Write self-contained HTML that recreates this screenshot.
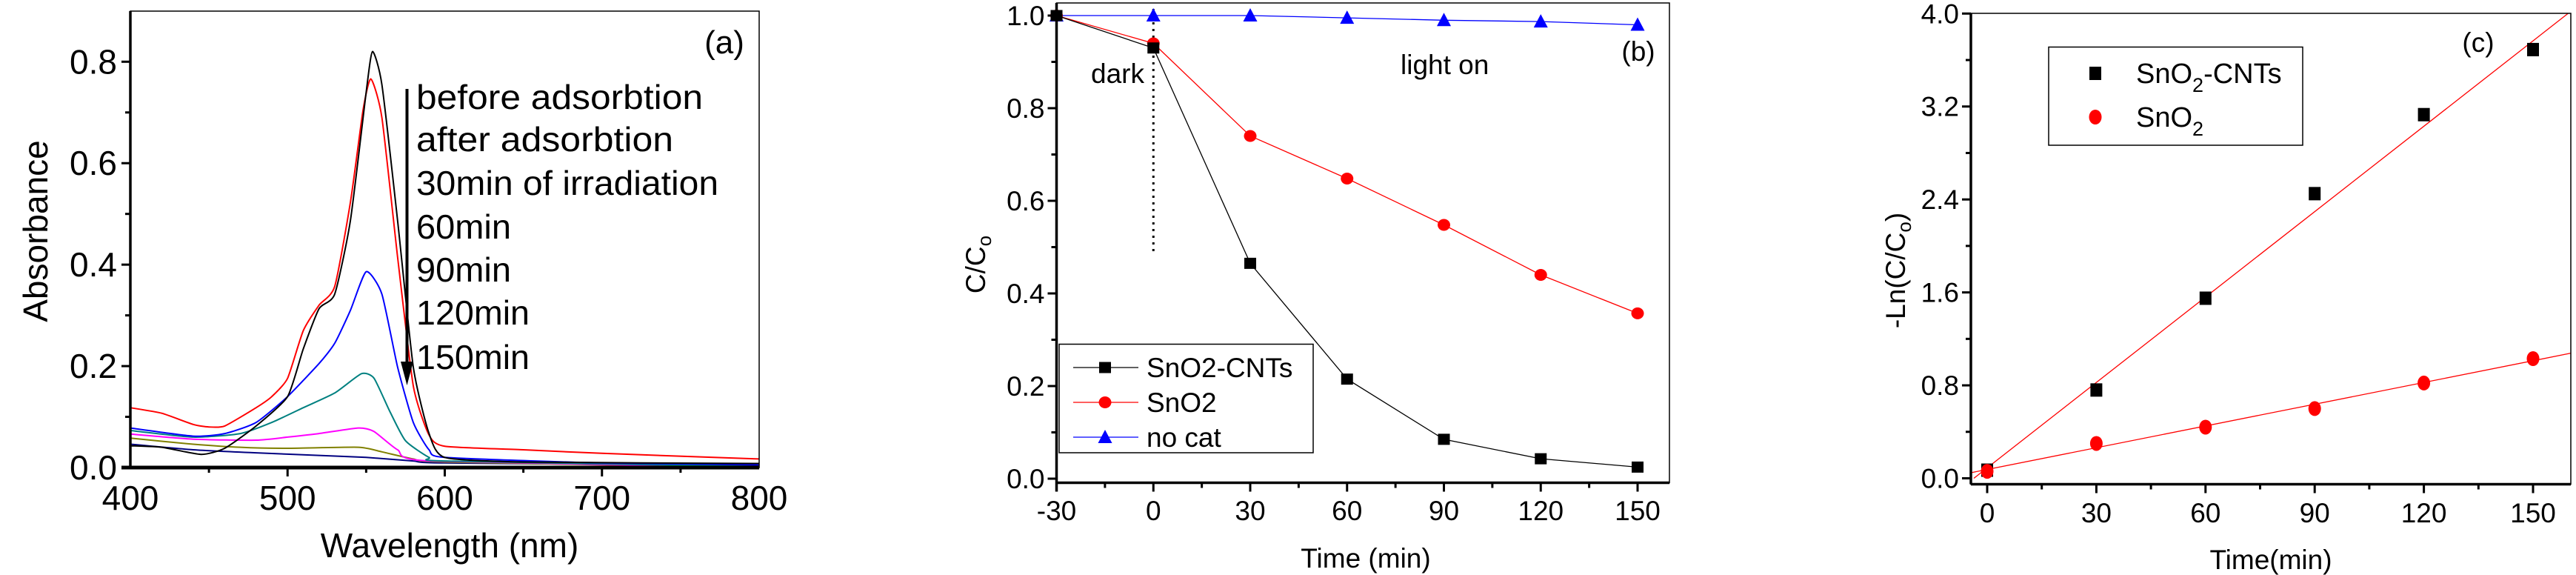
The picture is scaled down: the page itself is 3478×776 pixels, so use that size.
<!DOCTYPE html>
<html><head><meta charset="utf-8">
<style>
html,body{margin:0;padding:0;background:#fff;}
svg{display:block;font-family:"Liberation Sans",Arial,sans-serif;}
</style></head>
<body>
<svg id="fig" width="3478" height="776" viewBox="0 0 3478 776" xmlns="http://www.w3.org/2000/svg">
<g id="pa"></g>
<g id="pb"></g>
<g id="pc"></g>
</svg>
<script>
// ---- Panel (a) data ----
const aLabels = ["before  adsorbtion","after  adsorbtion","30min of irradiation","60min","90min","120min","150min"];
const aColors = ["#000000","#ff0000","#0000ff","#008080","#ff00ff","#808000","#000080"];
const aXTicks = [400,500,600,700,800];
const aYTicks = [0.0,0.2,0.4,0.6,0.8];
const aBeforeX = [400,420,445,460,480,500,510,520,530,540,550,554,560,570,580,590,600,650,800];
const aBeforeY = [0.043,0.040,0.026,0.038,0.082,0.140,0.234,0.313,0.342,0.487,0.740,0.820,0.755,0.487,0.198,0.067,0.020,0.011,0.008];
const aAfterX = [400,420,440,450,460,480,490,500,510,520,530,540,548,553,560,570,580,590,600,650,700,800];
const aAfterY = [0.118,0.107,0.085,0.080,0.082,0.118,0.140,0.176,0.270,0.320,0.357,0.523,0.704,0.766,0.690,0.415,0.161,0.064,0.042,0.035,0.028,0.017];
const a30X = [400,440,460,480,500,520,530,540,550,560,570,580,590,600,700,800];
const a30Y = [0.078,0.062,0.067,0.089,0.140,0.205,0.245,0.310,0.386,0.342,0.198,0.089,0.035,0.020,0.009,0.006];
const a60X = [400,440,470,490,510,530,547,555,565,575,590,600,800];
const a60Y = [0.073,0.060,0.067,0.089,0.118,0.147,0.185,0.176,0.111,0.053,0.020,0.013,0.002];
const a90X = [400,440,480,500,520,545,555,570,590,800];
const a90Y = [0.066,0.056,0.054,0.060,0.067,0.078,0.071,0.035,0.013,0.001];
const a120X = [400,440,470,500,545,560,580,600,800];
const a120Y = [0.058,0.046,0.040,0.038,0.040,0.031,0.017,0.011,0.000];
const a150X = [400,440,480,520,550,580,600,800];
const a150Y = [0.046,0.035,0.029,0.024,0.020,0.013,0.009,0.004];

// ---- Panel (b) data ----
const bTimes = [-30,0,30,60,90,120,150];
const bCnt = [1.0,0.93,0.465,0.215,0.085,0.043,0.025];
const bSno2 = [1.0,0.94,0.74,0.648,0.548,0.44,0.357];
const bNocat = [1.0,1.0,1.0,0.995,0.99,0.987,0.98];
const bXTicks = [-30,0,30,60,90,120,150];
const bYTicks = [0.0,0.2,0.4,0.6,0.8,1.0];
const bLegend = ["SnO2-CNTs","SnO2","no cat"];

// ---- Panel (c) data ----
const cTimes = [0,30,60,90,120,150];
const cCnt = [0.07,0.76,1.55,2.45,3.13,3.69];
const cSno2 = [0.06,0.30,0.44,0.60,0.82,1.03];
const cFitSlope = [0.0245,0.00624];
const cFitIntercept = [0.09,0.076];
const cXTicks = [0,30,60,90,120,150];
const cYTicks = [0.0,0.8,1.6,2.4,3.2,4.0];

const NS="http://www.w3.org/2000/svg";
function mk(parent,tag,attrs,text){
  const e=document.createElementNS(NS,tag);
  for(const k in attrs) e.setAttribute(k,attrs[k]);
  if(text!==undefined) e.textContent=text;
  parent.appendChild(e); return e;
}
function lin(d0,d1,r0,r1){return v=>r0+(v-d0)*(r1-r0)/(d1-d0);}
function smoothPath(pts){
  let d="M"+pts[0][0].toFixed(1)+","+pts[0][1].toFixed(1);
  for(let i=0;i<pts.length-1;i++){
    const p0=pts[i-1]||pts[i],p1=pts[i],p2=pts[i+1],p3=pts[i+2]||p2;
    const t=0.1;
    const c1=[p1[0]+(p2[0]-p0[0])*t,p1[1]+(p2[1]-p0[1])*t];
    const c2=[p2[0]-(p3[0]-p1[0])*t,p2[1]-(p3[1]-p1[1])*t];
    d+=" C"+c1[0].toFixed(1)+","+c1[1].toFixed(1)+" "+c2[0].toFixed(1)+","+c2[1].toFixed(1)+" "+p2[0].toFixed(1)+","+p2[1].toFixed(1);
  }
  return d;
}

// ================= Panel A =================
(function(){
  const g=document.getElementById('pa');
  const L=176,R=1025,T=15,B=631;
  const x=lin(400,800,L,R), y=lin(0,0.8,B,83.3);
  const series=[[aBeforeX,aBeforeY],[aAfterX,aAfterY],[a30X,a30Y],[a60X,a60Y],[a90X,a90Y],[a120X,a120Y],[a150X,a150Y]];
  for(let s=series.length-1;s>=0;s--){
    const pts=series[s][0].map((v,i)=>[x(v),y(series[s][1][i])]);
    const p=mk(g,'path',{d:smoothPath(pts),fill:'none',stroke:aColors[s],'stroke-width':2});
    
    
  }
  const fr=mk(g,'rect',{x:L,y:T,width:R-L,height:B-T,fill:'none',stroke:'#000','stroke-width':1.5});
  
  
  const ya=mk(g,'line',{x1:L,y1:T,x2:L,y2:B+2,stroke:'#000','stroke-width':3.5});
  
  
  const xa=mk(g,'line',{x1:L-12,y1:B,x2:R,y2:B,stroke:'#000','stroke-width':5});
  
  
  for(let k=1;k<=8;k++){
    const v=k/10, major=k%2===0;
    mk(g,'line',{x1:L-(major?12:7),y1:y(v),x2:L,y2:y(v),stroke:'#000','stroke-width':3});
  }
  for(let v=450;v<800;v+=50){
    const major=v%100===0;
    mk(g,'line',{x1:x(v),y1:B,x2:x(v),y2:B+(major?12:7),stroke:'#000','stroke-width':3});
  }
  aYTicks.forEach(v=>{
    const t=mk(g,'text',{x:L-18,y:y(v)+16,'font-size':46,'text-anchor':'end'},v.toFixed(1));
    
    
  });
  aXTicks.forEach(v=>{
    const t=mk(g,'text',{x:x(v),y:688,'font-size':46,'text-anchor':'middle'},String(v));
    
    
  });
  const xt=mk(g,'text',{x:607,y:752,'font-size':46,'text-anchor':'middle'},'Wavelength (nm)');
  
  
  const yt=mk(g,'text',{x:0,y:0,'font-size':46,'text-anchor':'middle',transform:'translate(64,312) rotate(-90)'},'Absorbance');
  
  
  const pl=mk(g,'text',{x:978,y:72,'font-size':44,'text-anchor':'middle'},'(a)');
  
  
  const ar=mk(g,'line',{x1:549.5,y1:120,x2:549.5,y2:495,stroke:'#000','stroke-width':4});
  
  
  const ah=mk(g,'polygon',{points:'541,488 558,488 549.5,520',fill:'#000'});
  
  
  const widths=[387,347,408,128,128,153,153];
  const bases=[147,204,263,322,380,438,498];
  aLabels.forEach((s,i)=>{
    const t=mk(g,'text',{x:562,y:bases[i],'font-size':46,textLength:widths[i],lengthAdjust:'spacingAndGlyphs'},s);
    
    
  });
})();

// ================= Panel B =================
(function(){
  const g=document.getElementById('pb');
  const L=1426.5,R=2254,T=4,B=651.5;
  const x=lin(-30,150,L,2211), y=lin(0,1,646,21);
  const dl=mk(g,'line',{x1:x(0),y1:12,x2:x(0),y2:342,stroke:'#000','stroke-width':3,'stroke-dasharray':'3,6'});
  
  
  const cols=['#000','#ff0000','#0000ff'];
  const data=[bCnt,bSno2,bNocat];
  function marker(kind,cx,cy,col){
    if(kind===0) return mk(g,'rect',{x:cx-8,y:cy-7.5,width:16,height:15,fill:col});
    if(kind===1) return mk(g,'ellipse',{cx:cx,cy:cy,rx:8.5,ry:8,fill:col});
    return mk(g,'polygon',{points:(cx-9.5)+','+(cy+8)+' '+(cx+9.5)+','+(cy+8)+' '+cx+','+(cy-10),fill:col});
  }
  for(let s=2;s>=0;s--){
    const pts=bTimes.map((t,i)=>x(t).toFixed(1)+','+y(data[s][i]).toFixed(1)).join(' ');
    const pl=mk(g,'polyline',{points:pts,fill:'none',stroke:cols[s],'stroke-width':1.3});
    
    
    bTimes.forEach((t,i)=>{
      const m=marker(s,x(t),y(data[s][i]),cols[s]);
      
      
    });
  }
  const fr=mk(g,'rect',{x:L,y:T,width:R-L,height:B-T,fill:'none',stroke:'#000','stroke-width':1.5});
  
  
  mk(g,'line',{x1:L,y1:T,x2:L,y2:B+12,stroke:'#000','stroke-width':3.5});
  mk(g,'line',{x1:L,y1:B,x2:R,y2:B,stroke:'#000','stroke-width':3.5});
  for(let k=0;k<=10;k++){
    const v=k/10, major=k%2===0;
    mk(g,'line',{x1:L-(major?12:7),y1:y(v),x2:L,y2:y(v),stroke:'#000','stroke-width':3});
  }
  for(let v=-15;v<=150;v+=15){
    const major=v%30===0;
    mk(g,'line',{x1:x(v),y1:B,x2:x(v),y2:B+(major?12:7),stroke:'#000','stroke-width':3});
  }
  bYTicks.forEach(v=>{
    const t=mk(g,'text',{x:L-16,y:y(v)+13,'font-size':37,'text-anchor':'end'},v.toFixed(1));
    
    
  });
  bXTicks.forEach(v=>{
    const t=mk(g,'text',{x:x(v),y:702,'font-size':37,'text-anchor':'middle'},String(v));
    
    
  });
  const xt=mk(g,'text',{x:1844,y:766,'font-size':37,'text-anchor':'middle'},'Time (min)');
  
  
  const yt=mk(g,'text',{x:0,y:0,'font-size':37,'text-anchor':'middle',transform:'translate(1330,357) rotate(-90)'});
  
  
  mk(yt,'tspan',{},'C/C');
  mk(yt,'tspan',{'font-size':26,dy:8},'o');
  const d=mk(g,'text',{x:1473,y:112,'font-size':37},'dark');
  
  
  const lo=mk(g,'text',{x:1891,y:100,'font-size':37},'light on');
  
  
  const pl=mk(g,'text',{x:2212,y:82,'font-size':37,'text-anchor':'middle'},'(b)');
  
  
  const lg=mk(g,'g',{});
  
  
  mk(lg,'rect',{x:1430,y:464.5,width:343,height:146.5,fill:'#fff',stroke:'#000','stroke-width':1.5});
  bLegend.forEach((s,i)=>{
    const yy=496+i*47;
    mk(lg,'line',{x1:1449,y1:yy,x2:1537,y2:yy,stroke:cols[i],'stroke-width':1.3});
    if(i===0) mk(lg,'rect',{x:1484,y:yy-7.5,width:16,height:15,fill:cols[i]});
    else if(i===1) mk(lg,'ellipse',{cx:1492,cy:yy,rx:8.5,ry:8,fill:cols[i]});
    else mk(lg,'polygon',{points:'1482.5,'+(yy+8)+' 1501.5,'+(yy+8)+' 1492,'+(yy-10),fill:cols[i]});
    const t=mk(lg,'text',{x:1548,y:yy+13,'font-size':37},s);
    
    
  });
})();

// ================= Panel C =================
(function(){
  const g=document.getElementById('pc');
  const L=2661,R=3471,T=18,B=653.5;
  const x=lin(0,150,2683,3420), y=lin(0,4,645.5,18.3);
  const tmin=(L-2683)/(3420-2683)*150, tmax=(R-2683)/(3420-2683)*150;
  [0,1].forEach(s=>{
    let t0=tmin,t1=tmax;
    const f=t=>cFitSlope[s]*t+cFitIntercept[s];
    if(f(t0)<0) t0=-cFitIntercept[s]/cFitSlope[s];
    if(f(t1)>4) t1=(4-cFitIntercept[s])/cFitSlope[s];
    const ln=mk(g,'line',{x1:x(t0),y1:y(f(t0)),x2:x(t1),y2:y(f(t1)),stroke:'#ff0000','stroke-width':1.3});
    
    
  });
  cTimes.forEach((t,i)=>{
    const m=mk(g,'rect',{x:x(t)-8,y:y(cCnt[i])-9,width:16,height:18,fill:'#000'});
    
    
  });
  cTimes.forEach((t,i)=>{
    const m=mk(g,'ellipse',{cx:x(t),cy:y(cSno2[i]),rx:8.5,ry:10,fill:'#ff0000'});
    
    
  });
  const fr=mk(g,'rect',{x:L,y:T,width:R-L,height:B-T,fill:'none',stroke:'#000','stroke-width':1.5});
  
  
  mk(g,'line',{x1:L,y1:T,x2:L,y2:B,stroke:'#000','stroke-width':3.5});
  mk(g,'line',{x1:L,y1:B,x2:R,y2:B,stroke:'#000','stroke-width':3.5});
  for(let k=0;k<=10;k++){
    const v=k*0.4, major=k%2===0;
    mk(g,'line',{x1:L-(major?12:7),y1:y(v),x2:L,y2:y(v),stroke:'#000','stroke-width':3});
  }
  for(let v=0;v<=150;v+=15){
    const major=v%30===0;
    mk(g,'line',{x1:x(v),y1:B,x2:x(v),y2:B+(major?12:7),stroke:'#000','stroke-width':3});
  }
  cYTicks.forEach(v=>{
    const t=mk(g,'text',{x:L-16,y:y(v)+13,'font-size':37,'text-anchor':'end'},v.toFixed(1));
    
    
  });
  cXTicks.forEach(v=>{
    const t=mk(g,'text',{x:x(v),y:705,'font-size':37,'text-anchor':'middle'},String(v));
    
    
  });
  const xt=mk(g,'text',{x:3066,y:768,'font-size':37,'text-anchor':'middle'},'Time(min)');
  
  
  const yt=mk(g,'text',{x:0,y:0,'font-size':37,'text-anchor':'middle',transform:'translate(2572,365) rotate(-90)'});
  
  
  mk(yt,'tspan',{},'-Ln(C/C');
  mk(yt,'tspan',{'font-size':26,dy:8},'o');
  mk(yt,'tspan',{dy:-8},')');
  const pl=mk(g,'text',{x:3346,y:70,'font-size':37,'text-anchor':'middle'},'(c)');
  
  
  const lg=mk(g,'g',{});
  
  
  mk(lg,'rect',{x:2766,y:63.5,width:343,height:132.5,fill:'#fff',stroke:'#000','stroke-width':1.5});
  mk(lg,'rect',{x:2821,y:90,width:16,height:18,fill:'#000'});
  mk(lg,'ellipse',{cx:2829,cy:158,rx:8.5,ry:10,fill:'#ff0000'});
  const t1=mk(lg,'text',{x:2884,y:112,'font-size':38});
  
  
  mk(t1,'tspan',{},'SnO');
  mk(t1,'tspan',{'font-size':27,dy:12},'2');
  mk(t1,'tspan',{dy:-12},'-CNTs');
  const t2=mk(lg,'text',{x:2884,y:171,'font-size':38});
  
  
  mk(t2,'tspan',{},'SnO');
  mk(t2,'tspan',{'font-size':27,dy:12},'2');
})();
</script>
</body></html>
